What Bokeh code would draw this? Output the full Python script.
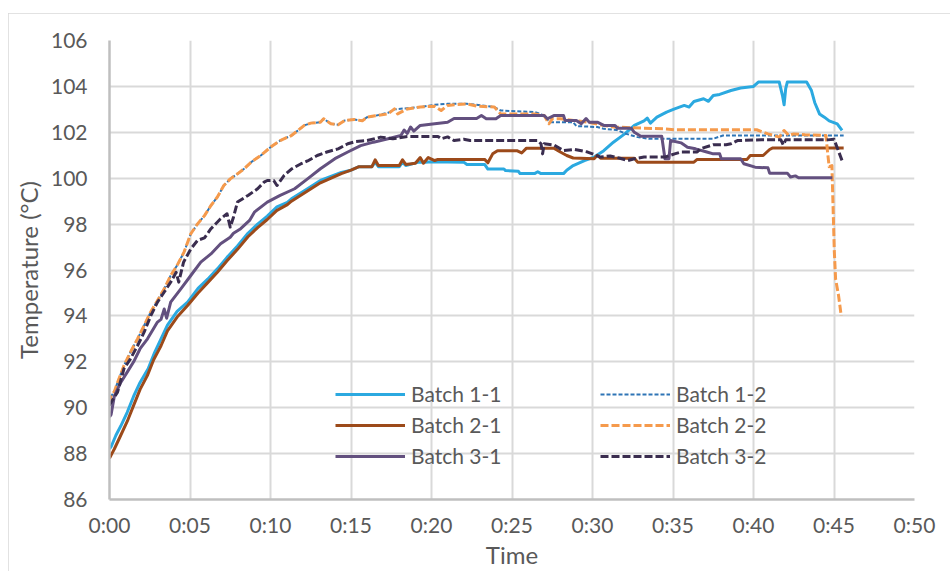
from bokeh.plotting import figure
from bokeh.models import Legend, LegendItem, FixedTicker, Range1d
from bokeh.embed import file_html
from bokeh.resources import INLINE

# ---------------- data (time in minutes, temperature in °C) ----------------
b11_t = [0, 0.1, 0.4, 0.7, 1.1, 1.5, 1.9, 2.4, 2.8, 3.2, 3.6, 4.2, 4.85, 5.5, 6.1, 6.7, 7.3, 7.95,
         8.6, 9.2, 9.8, 10.4, 11.05, 11.3, 12.2, 13.1, 14.4, 15.0, 15.5, 16.3, 16.5, 16.7, 18.0, 18.2,
         18.4, 19.2, 19.6, 20.0, 22.0, 22.2, 23.3, 23.5, 24.5, 24.6, 25.4, 25.5, 26.4, 26.6, 26.8, 28.2,
         28.4, 28.8, 29.5, 30.1, 30.7, 31.3, 32.0, 32.6, 33.2, 33.4, 33.6, 34.0, 34.6, 35.1, 35.7, 36.0,
         36.3, 36.9, 37.2, 37.5, 37.9, 38.6, 39.2, 40.0, 40.3, 41.6, 41.8, 41.9, 42.0, 42.1, 43.3, 43.6,
         43.8, 44.1, 44.4, 44.7, 45.2, 45.5]
b11_v = [88.2, 88.3, 88.8, 89.2, 89.8, 90.5, 91.1, 91.7, 92.4, 93.0, 93.6, 94.2, 94.6, 95.2, 95.6, 96.05, 96.55, 97.05,
         97.6, 98.0, 98.35, 98.75, 98.95, 99.1, 99.5, 99.9, 100.25, 100.35, 100.5, 100.5, 100.7, 100.5, 100.5, 100.7,
         100.55, 100.7, 100.7, 100.72, 100.7, 100.6, 100.6, 100.4, 100.4, 100.33, 100.3, 100.2, 100.2, 100.28, 100.2, 100.2,
         100.35, 100.55, 100.77, 100.92, 101.2, 101.57, 101.93, 102.3, 102.5, 102.62, 102.4, 102.66, 102.88, 103.02, 103.17, 103.1,
         103.34, 103.46, 103.35, 103.6, 103.65, 103.82, 103.93, 104.0, 104.19, 104.19, 103.6, 103.2, 103.9, 104.19, 104.19, 103.82,
         103.3, 102.8, 102.66, 102.5, 102.37, 102.08]

b12_t = [0, 0.1, 0.3, 0.5, 0.9, 1.3, 1.74, 2.15, 2.56, 2.98, 3.4, 3.8, 4.2, 4.63, 5.05, 5.47, 5.9, 6.3,
         6.7, 7.1, 7.5, 7.95, 8.36, 8.8, 9.4, 10.0, 10.6, 11.3, 11.7, 12.1, 12.5, 13.1, 13.3, 13.75,
         14.2, 14.6, 15.2, 15.7, 16.0, 16.5, 17.3, 17.7, 18.5, 19.3, 20.2, 21.0, 22.2, 22.8, 23.9, 24.3,
         26.4, 26.8, 27.1, 27.4, 28.8, 29.0, 30.3, 30.7, 31.5, 32.1, 32.8, 33.5, 37.5, 38.1, 45.6]
b12_v = [90.2, 90.5, 90.7, 91.1, 91.84, 92.42, 93.0, 93.58, 94.17, 94.67, 95.18, 95.76, 96.2, 96.78, 97.58, 98.01, 98.37, 98.81,
         99.18, 99.68, 99.97, 100.19, 100.41, 100.7, 100.99, 101.35, 101.64, 101.86, 102.08, 102.3, 102.4, 102.44, 102.59, 102.37,
         102.33, 102.51, 102.56, 102.5, 102.66, 102.72, 102.85, 103.0, 103.05, 103.1, 103.2, 103.24, 103.24, 103.2, 103.1, 102.95,
         102.88, 102.8, 102.6, 102.44, 102.44, 102.27, 102.23, 102.15, 102.1, 101.93, 101.79, 101.72, 101.72, 101.86, 101.86]

b21_t = [0, 0.15, 0.3, 0.7, 1.1, 1.5, 1.9, 2.35, 2.75, 3.2, 3.6, 4.2, 4.85, 5.5, 6.1, 6.7, 7.3, 7.95,
         8.6, 9.2, 9.8, 10.4, 11.05, 11.3, 12.2, 13.1, 14.4, 15.0, 15.5, 16.3, 16.5, 16.7, 18.0, 18.2,
         18.4, 19.0, 19.3, 19.5, 19.8, 20.2, 20.4, 23.3, 23.5, 23.8, 24.1, 25.3, 25.6, 25.9, 27.6, 28.0,
         28.4, 28.8, 30.1, 30.3, 30.5, 32.6, 32.8, 36.3, 36.5, 39.6, 39.8, 40.6, 41.0, 41.2, 45.6]
b21_v = [87.8, 88.0, 88.2, 88.8, 89.4, 90.1, 90.8, 91.4, 92.1, 92.7, 93.35, 93.95, 94.45, 95.0, 95.45, 95.9, 96.4, 96.9,
         97.45, 97.85, 98.2, 98.6, 98.85, 99.0, 99.4, 99.8, 100.2, 100.35, 100.5, 100.5, 100.8, 100.55, 100.55, 100.8,
         100.6, 100.65, 100.9, 100.65, 100.9, 100.77, 100.82, 100.82, 100.67, 101.06, 101.2, 101.2, 101.1, 101.31, 101.31, 101.14,
         100.99, 100.88, 100.85, 101.0, 100.87, 100.87, 100.7, 100.7, 100.82, 100.82, 100.99, 100.99, 101.25, 101.32, 101.32]

b22_t = [0, 0.1, 0.3, 0.5, 0.9, 1.3, 1.74, 2.15, 2.56, 2.98, 3.4, 3.8, 4.2, 4.63, 5.05, 5.47, 5.9, 6.3,
         6.7, 7.1, 7.5, 7.95, 8.36, 8.8, 9.4, 10.0, 10.6, 11.3, 11.7, 12.1, 12.5, 13.1, 13.3, 13.75,
         14.2, 14.6, 15.2, 15.7, 16.0, 16.5, 17.3, 17.7, 17.9, 18.5, 19.3, 20.2, 20.6, 21.0, 22.2, 22.8,
         23.9, 24.1, 24.3, 26.4, 27.0, 27.3, 27.5, 28.0, 29.0, 29.7, 30.7, 31.3, 34.4, 35.1, 40.2, 40.9,
         41.6, 41.9, 42.2, 42.5, 43.2, 44.5, 44.6, 44.7, 44.87, 45.02, 45.1, 45.28, 45.45]
b22_v = [90.2, 90.53, 90.7, 91.1, 91.84, 92.42, 93.0, 93.58, 94.17, 94.67, 95.18, 95.76, 96.2, 96.78, 97.58, 98.01, 98.37, 98.81,
         99.18, 99.68, 99.97, 100.19, 100.41, 100.7, 100.99, 101.35, 101.64, 101.86, 102.08, 102.3, 102.4, 102.44, 102.59, 102.37,
         102.33, 102.51, 102.56, 102.5, 102.66, 102.72, 102.8, 103.02, 102.8, 103.02, 103.1, 103.14, 102.95, 103.17, 103.24, 103.14,
         103.1, 102.95, 102.8, 102.8, 102.73, 102.37, 102.59, 102.59, 102.5, 102.44, 102.3, 102.23, 102.15, 102.11, 102.11, 101.93,
         101.79, 102.08, 101.86, 101.93, 101.89, 101.86, 101.14, 100.5, 100.55, 96.8, 95.6, 94.9, 94.0]

b31_t = [0, 0.1, 0.3, 0.7, 1.1, 1.5, 1.9, 2.36, 2.98, 3.2, 3.4, 3.55, 3.8, 4.43, 5.05, 5.67, 6.3, 6.9,
         7.5, 7.7, 8.15, 8.7, 9.0, 9.8, 10.6, 11.5, 12.3, 13.1, 14.0, 14.8, 15.6, 16.4, 17.3, 18.1,
         18.3, 18.5, 18.7, 18.9, 19.3, 20.2, 21.0, 21.4, 22.8, 23.1, 23.4, 24.0, 24.3, 27.0, 27.2, 27.6,
         28.2, 28.3, 29.0, 29.3, 29.6, 29.8, 30.3, 30.7, 31.4, 31.55, 32.4, 32.6, 33.0, 34.3, 34.5, 34.75,
         34.85, 35.5, 35.9, 36.4, 37.1, 37.5, 37.9, 38.0, 39.2, 39.4, 40.1, 40.9, 41.0, 42.1, 42.3, 42.6,
         42.8, 44.9]
b31_v = [89.6, 89.7, 90.5, 91.1, 91.55, 92.0, 92.57, 93.0, 93.73, 93.85, 94.3, 93.9, 94.6, 95.18, 95.76, 96.34, 96.7, 97.14,
         97.43, 97.6, 97.8, 98.16, 98.52, 98.96, 99.25, 99.54, 99.97, 100.41, 100.85, 101.14, 101.42, 101.57, 101.72, 101.86,
         102.1, 101.95, 102.23, 102.05, 102.3, 102.37, 102.44, 102.6, 102.6, 102.73, 102.59, 102.59, 102.73, 102.73, 102.59, 102.73,
         102.73, 102.51, 102.51, 102.37, 102.6, 102.44, 102.44, 102.3, 102.3, 102.18, 102.18, 102.0, 101.83, 101.83, 100.85, 100.85,
         101.64, 101.54, 101.35, 101.28, 101.14, 101.06, 101.06, 100.85, 100.85, 100.63, 100.48, 100.45, 100.22, 100.22, 100.05, 100.1,
         100.02, 100.02]

b32_t = [0, 0.1, 0.5, 0.9, 1.3, 1.74, 2.15, 2.56, 2.98, 3.4, 3.8, 4.14, 4.3, 4.6, 5.05, 5.47, 5.9, 6.3,
         6.9, 7.3, 7.5, 7.7, 7.95, 8.6, 9.2, 9.6, 9.8, 10.2, 10.4, 10.85, 11.3, 11.5, 11.9, 12.3,
         12.9, 13.5, 14.2, 14.8, 15.3, 16.0, 16.85, 17.6, 18.5, 20.4, 20.6, 21.0, 21.4, 22.0, 22.4, 26.6,
         26.8, 26.9, 27.0, 27.6, 28.2, 28.9, 29.7, 30.0, 30.5, 31.1, 31.7, 32.2, 32.6, 33.2, 34.5, 35.1,
         35.5, 36.5, 36.7, 37.5, 38.3, 38.6, 39.0, 40.5, 41.7, 41.85, 42.0, 44.6, 45.0, 45.3, 45.5]
b32_v = [90.1, 90.24, 90.68, 91.7, 92.13, 92.7, 93.29, 94.0, 94.6, 95.04, 95.47, 95.9, 95.47, 96.34, 96.92, 97.29, 97.4, 97.8,
         98.23, 98.45, 97.87, 98.3, 98.96, 99.25, 99.54, 99.83, 99.9, 99.9, 99.68, 100.12, 100.4, 100.48, 100.63, 100.75,
         100.99, 101.14, 101.28, 101.5, 101.6, 101.64, 101.79, 101.72, 101.82, 101.82, 101.72, 101.8, 101.64, 101.7, 101.64, 101.64,
         101.5, 101.06, 101.5, 101.45, 101.2, 101.25, 101.14, 101.06, 100.92, 100.97, 100.87, 100.77, 100.85, 100.92, 100.92, 101.06,
         101.14, 101.14, 101.28, 101.46, 101.46, 101.5, 101.64, 101.67, 101.67, 101.45, 101.67, 101.67, 101.7, 101.14, 100.77]

x_ticks = [0, 5, 10, 15, 20, 25, 30, 35, 40, 45, 50]
x_tick_labels = ["0:00", "0:05", "0:10", "0:15", "0:20", "0:25", "0:30", "0:35", "0:40", "0:45", "0:50"]
y_ticks = [86, 88, 90, 92, 94, 96, 98, 100, 102, 104, 106]

FONT = "Lato"
TXT = "#595959"

p = figure(width=942, height=558, output_backend="svg", toolbar_location=None,
           x_range=Range1d(0, 50), y_range=Range1d(86, 106),
           min_border_left=101, min_border_right=36, min_border_top=27, min_border_bottom=71,
           styles={"margin-left": "8px", "margin-top": "13px",
                   "outline": "2px solid #d9d9d9", "outline-offset": "-2px"})
p.outline_line_color = None
p.background_fill_color = "white"
p.border_fill_color = "white"

p.xaxis.ticker = FixedTicker(ticks=x_ticks)
p.xaxis.major_label_overrides = {t: s for t, s in zip(x_ticks, x_tick_labels)}
p.yaxis.ticker = FixedTicker(ticks=y_ticks)

for ax in (p.xaxis[0], p.yaxis[0]):
    ax.major_tick_line_color = None
    ax.minor_tick_line_color = None
    ax.major_tick_out = 0
    ax.major_tick_in = 0
    ax.minor_tick_out = 0
    ax.axis_line_color = "#bfbfbf"
    ax.axis_line_width = 2.5
    ax.major_label_text_font = FONT
    ax.major_label_text_font_size = "21px"
    ax.major_label_text_color = TXT
    ax.axis_label_text_font = FONT
    ax.axis_label_text_font_size = "24px"
    ax.axis_label_text_color = TXT
    ax.axis_label_text_font_style = "normal"

p.xaxis.axis_label = "Time"
p.yaxis.axis_label = "Temperature (°C)"
p.xaxis.major_label_standoff = 12
p.xaxis.axis_label_standoff = 0
p.yaxis.major_label_standoff = 22
p.yaxis.axis_label_standoff = 5

p.xgrid.grid_line_color = "#d9d9d9"
p.ygrid.grid_line_color = "#d9d9d9"
p.xgrid.grid_line_width = 2
p.ygrid.grid_line_width = 2

series = [
    ("Batch 1-1", b11_t, b11_v, "#2BA9E0", 3, "solid"),
    ("Batch 1-2", b12_t, b12_v, "#2E75B6", 2, "4 2"),
    ("Batch 2-1", b21_t, b21_v, "#9C4A1A", 3, "solid"),
    ("Batch 2-2", b22_t, b22_v, "#F59A4C", 3, "8 3"),
    ("Batch 3-1", b31_t, b31_v, "#63507F", 3, "solid"),
    ("Batch 3-2", b32_t, b32_v, "#3A2D4F", 3, "8 3"),
]
rend = {}
for name, xs, ys, col, w, dash in series:
    rend[name] = p.line(xs, ys, line_color=col, line_width=w, line_dash=dash, line_join="round")

def make_legend(names, vx):
    lg = Legend(items=[LegendItem(label=n, renderers=[rend[n]]) for n in names],
                location=(vx, 31), orientation="vertical",
                label_text_font=FONT, label_text_font_size="21px", label_text_color=TXT,
                glyph_width=70, glyph_height=24, label_height=24, spacing=6,
                label_standoff=6, padding=0, margin=0,
                border_line_color=None, background_fill_alpha=0)
    return lg

p.add_layout(make_legend(["Batch 1-1", "Batch 2-1", "Batch 3-1"], 226))
p.add_layout(make_legend(["Batch 1-2", "Batch 2-2", "Batch 3-2"], 491))

open("out.html", "w").write(file_html(p, INLINE))
